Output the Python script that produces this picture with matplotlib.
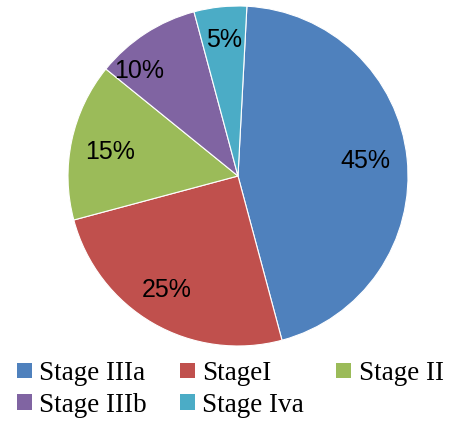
import matplotlib
matplotlib.use("Agg")
import matplotlib.pyplot as plt
from matplotlib.patches import Patch

categories = ["Stage IIIa", "StageI", "Stage II", "Stage IIIb", "Stage Iva"]
values = [45, 25, 15, 10, 5]
colors = ["#4F81BD", "#C0504D", "#9BBB59", "#8064A2", "#4BACC6"]

W, H = 454, 426
fig = plt.figure(figsize=(W / 100, H / 100), dpi=100)
ax = fig.add_axes([68 / W, 80 / H, 340 / W, 340 / H])
wedges, texts, autotexts = ax.pie(
    values, colors=colors, startangle=87, counterclock=False,
    autopct=lambda p: f"{p:.0f}%", pctdistance=0.78,
    wedgeprops=dict(edgecolor="white", linewidth=0.8),
    textprops=dict(fontsize=18, family="Liberation Sans", color="black"),
)
# label placement nudges (Excel-style positions)
label_pos = [(0.75, 0.09), (-0.42, -0.67), (-0.75, 0.14), (-0.58, 0.62), (-0.08, 0.80)]
for t, p in zip(autotexts, label_pos):
    t.set_position(p)
ax.set_xlim(-1.0, 1.0)
ax.set_ylim(-1.0, 1.0)
ax.set_aspect("equal")
ax.axis("off")

handles = [Patch(facecolor=c, edgecolor="none") for c in colors]
order = [0, 3, 1, 4, 2]
fig.legend([handles[i] for i in order], [categories[i] for i in order],
           ncol=3, loc="upper left", bbox_to_anchor=(17 / W, 1 - 361 / H),
           frameon=False, borderpad=0, borderaxespad=0,
           prop=dict(family="Liberation Serif", size=19.5),
           handlelength=0.55, handleheight=0.5, handletextpad=0.28,
           labelspacing=0.25, columnspacing=1.2)

fig.savefig("out.png", dpi=100)
